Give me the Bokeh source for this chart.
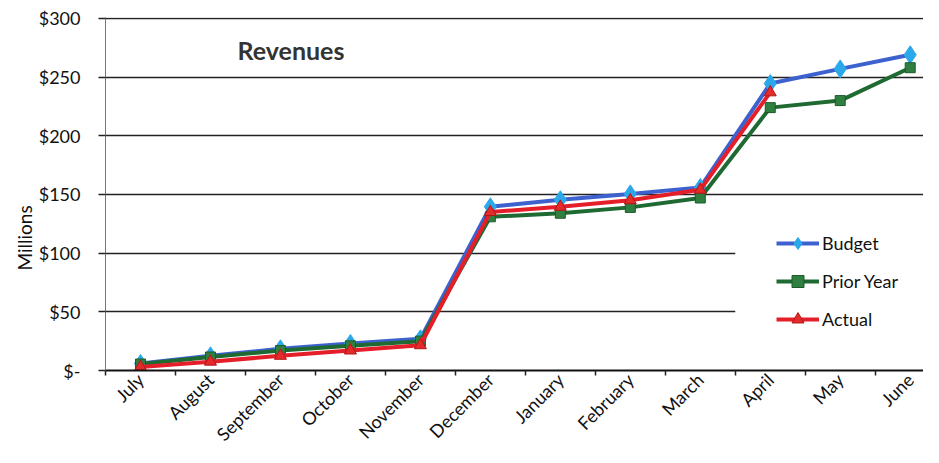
import math
from bokeh.plotting import figure
from bokeh.models import (Range1d, FixedTicker, Legend, LegendItem, Label, BoxAnnotation, Title)
from bokeh.embed import file_html
from bokeh.resources import INLINE

months = ["July", "August", "September", "October", "November", "December",
          "January", "February", "March", "April", "May", "June"]
budget = [6, 12.5, 18.5, 23, 27, 139.5, 145.5, 150.5, 156, 244.5, 257, 269]
prior_year = [5.5, 11.5, 17, 21, 25, 131, 134, 139, 147, 224, 230, 258]
actual = [3, 7.5, 12.5, 17, 21.5, 135, 139.5, 145, 154, 237, None, None]
y_ticks = [0, 50, 100, 150, 200, 250, 300]
y_tick_labels = ["$-", "$50", "$100", "$150", "$200", "$250", "$300"]

xs = list(range(len(months)))
FONT = "Lato"

p = figure(width=923, height=455, output_backend="svg", toolbar_location=None,
           x_range=Range1d(-0.5, 11.19), y_range=Range1d(0, 300.8),
           min_border_left=105, min_border_top=17, min_border_right=0, min_border_bottom=85)
p.outline_line_color = None
p.background_fill_color = "white"

# axes
p.xaxis.ticker = FixedTicker(ticks=xs, minor_ticks=[i - 0.5 for i in range(len(months) + 1)])
p.xaxis.major_label_overrides = {i: m for i, m in zip(xs, months)}
p.xaxis.major_tick_out = 0
p.xaxis.major_tick_in = 0
p.xaxis.minor_tick_out = 5
p.xaxis.minor_tick_in = 0
p.xaxis.minor_tick_line_color = "#222222"
p.xaxis.minor_tick_line_width = 1.5
p.xaxis.axis_line_color = "#111111"
p.xaxis.axis_line_width = 2
p.xaxis.major_label_orientation = math.pi / 4
p.xaxis.major_label_text_font = FONT
p.xaxis.major_label_text_font_size = "18px"
p.xaxis.major_label_text_color = "#111111"
p.xaxis.major_label_standoff = 1

p.yaxis.ticker = FixedTicker(ticks=y_ticks, minor_ticks=[])
p.yaxis.major_label_overrides = {t: l for t, l in zip(y_ticks, y_tick_labels)}
p.yaxis.major_tick_out = 7
p.yaxis.major_tick_in = 0
p.yaxis.major_tick_line_color = "#222222"
p.yaxis.major_tick_line_width = 1.5
p.yaxis.axis_line_color = "#777777"
p.yaxis.axis_line_width = 1
p.yaxis.major_label_text_font = FONT
p.yaxis.major_label_text_font_size = "18px"
p.yaxis.major_label_text_color = "#111111"
p.yaxis.major_label_standoff = 18

p.xgrid.visible = False
p.ygrid.ticker = FixedTicker(ticks=y_ticks, minor_ticks=[])
p.ygrid.grid_line_color = "#222222"
p.ygrid.grid_line_width = 1.5

# white area behind the legend (gridlines stop there)
p.add_layout(BoxAnnotation(left=8.5, right=12, bottom=35, top=119,
                           fill_color="white", fill_alpha=1, line_alpha=0,
                           level="underlay"))

# series
r_b_line = p.line(xs, budget, line_color="#3d62d0", line_width=4)
r_b_mark = p.scatter(xs, budget, marker="diamond", size=18, fill_color="#2aa8ea",
                     line_color="#2aa8ea")
r_p_line = p.line(xs, prior_year, line_color="#1f6a32", line_width=4)
r_p_mark = p.scatter(xs, prior_year, marker="square", size=10, fill_color="#2f8040",
                     line_color="#1d5a2a")
act_x = [x for x, v in zip(xs, actual) if v is not None]
act_y = [v for v in actual if v is not None]
r_a_line = p.line(act_x, act_y, line_color="#e41f2a", line_width=4)
r_a_mark = p.scatter(act_x, act_y, marker="triangle", size=12, fill_color="#e42a2a",
                     line_color="#b01818")

legend = Legend(items=[
    LegendItem(label="Budget", renderers=[r_b_line, r_b_mark]),
    LegendItem(label="Prior Year", renderers=[r_p_line, r_p_mark]),
    LegendItem(label="Actual", renderers=[r_a_line, r_a_mark]),
], location=(671, 36))
legend.border_line_color = None
legend.background_fill_alpha = 0
legend.padding = 5
legend.margin = 0
legend.glyph_width = 43
legend.glyph_height = 30
legend.label_height = 20
legend.spacing = 8
legend.label_standoff = 3
legend.label_text_font = FONT
legend.label_text_font_size = "18px"
legend.label_text_color = "#111111"
p.add_layout(legend)

p.add_layout(Label(x=132, y=321, x_units="screen", y_units="screen", text="Revenues",
                   text_font=FONT, text_font_size="25px", text_font_style="bold",
                   text_color="#333333", text_baseline="middle", text_align="left"))
p.add_layout(Title(text="Millions", align="left", offset=100, text_font=FONT,
                   text_font_size="19px", text_font_style="normal",
                   text_color="#111111", standoff=0), "left")

open("out.html", "w").write(file_html(p, INLINE))
